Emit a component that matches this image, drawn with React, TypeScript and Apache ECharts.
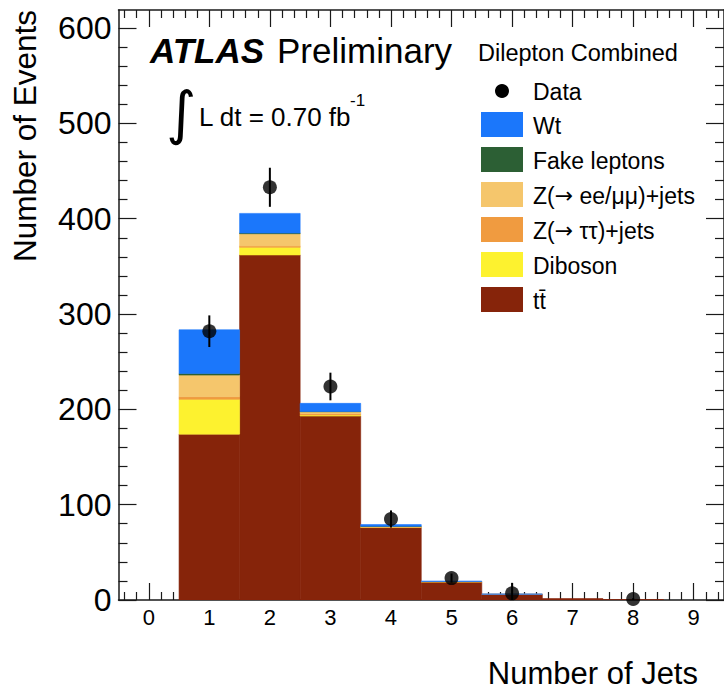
import React, { useEffect, useRef } from "react";
import * as echarts from "echarts";

// ---- data ----
const binCenters = [0, 1, 2, 3, 4, 5, 6, 7, 8, 9];
const ttbar = [0, 174, 362, 193, 76, 19, 6, 1.5, 0.5, 0];
const diboson = [0, 36.5, 8, 1, 0.3, 0.1, 0, 0, 0, 0];
const zTauTau = [0, 2.8, 1.3, 1.5, 0.3, 0.1, 0, 0, 0, 0];
const zEeMuMu = [0, 22.7, 13, 2, 0.5, 0.2, 0.1, 0, 0, 0];
const fakeLeptons = [0, 1.7, 0.7, 0.3, 0.2, 0, 0, 0, 0, 0];
const wt = [0, 45.8, 20.6, 8.5, 1.8, 0.5, 0.2, 0, 0, 0];
const dataCounts: (number | null)[] = [null, 282, 433, 224, 85, 23, 7, null, 1, null];
const dataErrors = [0, 16.6, 20.5, 14.5, 9, 4.8, 11, 0, 1, 0];

const xTickLabels = [0, 1, 2, 3, 4, 5, 6, 7, 8, 9];
const yTickLabels = [0, 100, 200, 300, 400, 500, 600];

const layerNames = ["t t\u0304", "Diboson", "Z(\u2192 \u03c4\u03c4)+jets", "Z(\u2192 ee/\u03bc\u03bc)+jets", "Fake leptons", "Wt"];
const layerValues = [ttbar, diboson, zTauTau, zEeMuMu, fakeLeptons, wt];
const layerColors = ["#86240a", "#fdf22f", "#f09b40", "#f5c66c", "#2c5f34", "#1b77fb"];

const FONT = '"Liberation Sans", Arial, Helvetica, sans-serif';
const INK = "#1a1a1a";

// minor tick positions (every 0.2 on x, every 20 on y)
const xMinorTicks: number[] = [];
for (let k = -2; k <= 47; k++) if (k % 5 !== 0) xMinorTicks.push(Math.round(k * 2) / 10);
const yMinorTicks: number[] = [];
for (let v = 20; v <= 600; v += 20) if (v % 100 !== 0) yMinorTicks.push(v);

export default function App() {
  const ref = useRef<HTMLDivElement>(null);
  useEffect(() => {
    if (!ref.current) return;
    const chart = echarts.init(ref.current, undefined, { renderer: "svg" });

    const frameLine = { show: true, onZero: false, lineStyle: { color: INK, width: 1.5 } };
    const noLine = { show: false, onZero: false };
    const tickLine = { color: INK, width: 1.2 };

    const xAxisBase = { type: "value", min: -0.5, max: 9.5, gridIndex: 0, splitLine: { show: false } };
    const yAxisBase = { type: "value", min: 0, max: 619, gridIndex: 0, splitLine: { show: false } };

    const xAxis = [
      {
        ...xAxisBase, position: "bottom", axisLine: frameLine,
        axisTick: { show: true, inside: true, length: 17, customValues: xTickLabels, lineStyle: tickLine },
        axisLabel: { show: true, customValues: xTickLabels, fontSize: 22, color: "#000", margin: 6, fontFamily: FONT },
      },
      {
        ...xAxisBase, position: "bottom", axisLine: noLine,
        axisTick: { show: true, inside: true, length: 8, customValues: xMinorTicks, lineStyle: tickLine },
        axisLabel: { show: false },
      },
      {
        ...xAxisBase, position: "top", axisLine: frameLine,
        axisTick: { show: true, inside: true, length: 17, customValues: xTickLabels, lineStyle: tickLine },
        axisLabel: { show: false },
      },
      {
        ...xAxisBase, position: "top", axisLine: noLine,
        axisTick: { show: true, inside: true, length: 8, customValues: xMinorTicks, lineStyle: tickLine },
        axisLabel: { show: false },
      },
    ];
    const yAxis = [
      {
        ...yAxisBase, position: "left", axisLine: frameLine,
        axisTick: { show: true, inside: true, length: 18, customValues: yTickLabels, lineStyle: tickLine },
        axisLabel: { show: true, customValues: yTickLabels, fontSize: 32, color: "#000", margin: 7, fontFamily: FONT },
      },
      {
        ...yAxisBase, position: "left", axisLine: noLine,
        axisTick: { show: true, inside: true, length: 9, customValues: yMinorTicks, lineStyle: tickLine },
        axisLabel: { show: false },
      },
      {
        ...yAxisBase, position: "right", axisLine: frameLine,
        axisTick: { show: true, inside: true, length: 18, customValues: yTickLabels, lineStyle: tickLine },
        axisLabel: { show: false },
      },
      {
        ...yAxisBase, position: "right", axisLine: noLine,
        axisTick: { show: true, inside: true, length: 9, customValues: yMinorTicks, lineStyle: tickLine },
        axisLabel: { show: false },
      },
    ];

    // stacked layers
    const cumulative = binCenters.map(() => 0);
    const stackSeries: any[] = layerValues.map((vals, li) => {
      const items: number[][] = [];
      binCenters.forEach((x, i) => {
        const lo = cumulative[i];
        const hi = lo + vals[i];
        cumulative[i] = hi;
        if (vals[i] > 0) items.push([x, lo, hi]);
      });
      const color = layerColors[li];
      return {
        type: "custom",
        name: layerNames[li],
        xAxisIndex: 0,
        yAxisIndex: 0,
        clip: true,
        z: 2,
        encode: { x: 0, y: [1, 2] },
        data: items,
        renderItem: (params: any, api: any) => {
          const x = api.value(0), lo = api.value(1), hi = api.value(2);
          const a = api.coord([x - 0.5, lo]);
          const b = api.coord([x + 0.5, hi]);
          return {
            type: "rect",
            shape: { x: a[0], y: b[1], width: b[0] - a[0], height: a[1] - b[1] },
            style: { fill: color, stroke: color, lineWidth: 0.6 },
          };
        },
      };
    });

    const pointData: number[][] = [];
    const errData: number[][] = [];
    binCenters.forEach((x, i) => {
      const v = dataCounts[i];
      if (v !== null) {
        pointData.push([x, v]);
        errData.push([x, v - dataErrors[i], v + dataErrors[i]]);
      }
    });

    const errorSeries = {
      type: "custom",
      name: "Data errors",
      xAxisIndex: 0,
      yAxisIndex: 0,
      clip: true,
      z: 5,
      encode: { x: 0, y: [1, 2] },
      data: errData,
      renderItem: (params: any, api: any) => {
        const x = api.value(0);
        const a = api.coord([x, api.value(1)]);
        const b = api.coord([x, api.value(2)]);
        return {
          type: "line",
          shape: { x1: a[0], y1: a[1], x2: b[0], y2: b[1] },
          style: { stroke: "#000", lineWidth: 2 },
        };
      },
    };

    const scatterSeries = {
      type: "scatter",
      name: "Data",
      xAxisIndex: 0,
      yAxisIndex: 0,
      symbol: "circle",
      symbolSize: 14,
      z: 6,
      itemStyle: { color: "#000" },
      data: pointData,
    };

    const legendRich = {
      arr: { fontSize: 22, fontFamily: '"DejaVu Sans", sans-serif', fill: "#000" },
    };
    const legendLabel = (name: string) =>
      name.replace(" t", "t").replace("\u2192", "{arr|\u2192}");

    // legend (drawn as graphic)
    const legendOrder = [5, 4, 3, 2, 1, 0];
    const legendGraphics: any[] = [
      {
        type: "text", x: 478, y: 53,
        style: { text: "Dilepton Combined", fontSize: 23.5, fontFamily: FONT, fill: "#000", align: "left", verticalAlign: "middle" },
      },
      { type: "circle", shape: { cx: 502, cy: 91, r: 7 }, style: { fill: "#000" } },
      {
        type: "text", x: 533, y: 92,
        style: { text: "Data", fontSize: 23, fontFamily: FONT, fill: "#000", align: "left", verticalAlign: "middle" },
      },
    ];
    legendOrder.forEach((li, k) => {
      const cy = 124.5 + k * 35;
      legendGraphics.push({
        type: "rect", shape: { x: 481, y: cy - 12.5, width: 42, height: 25 },
        style: { fill: layerColors[li] },
      });
      legendGraphics.push({
        type: "text", x: 533, y: cy + 1,
        style: {
          text: legendLabel(layerNames[li]), rich: legendRich,
          fontSize: 23, fontFamily: FONT, fill: "#000", align: "left", verticalAlign: "middle",
        },
      });
    });

    const graphics: any[] = [
      {
        type: "text", x: 150, y: 50,
        style: { text: "ATLAS", fontSize: 35, fontWeight: "bold", fontStyle: "italic", fontFamily: FONT, fill: "#000", align: "left", verticalAlign: "middle" },
      },
      {
        type: "text", x: 277, y: 50,
        style: { text: "Preliminary", fontSize: 35, fontFamily: FONT, fill: "#000", align: "left", verticalAlign: "middle" },
      },
      {
        type: "text", x: 181, y: 113,
        style: { text: "\u222b", fontSize: 58, fontFamily: '"DejaVu Sans", sans-serif', fill: "#000", align: "center", verticalAlign: "middle" },
      },
      {
        type: "text", x: 199, y: 117,
        style: { text: "L dt = 0.70 fb", fontSize: 26, fontFamily: FONT, fill: "#000", align: "left", verticalAlign: "middle" },
      },
      {
        type: "text", x: 350, y: 100,
        style: { text: "-1", fontSize: 17, fontFamily: FONT, fill: "#000", align: "left", verticalAlign: "middle" },
      },
      {
        type: "text", x: 25, y: 10, rotation: Math.PI / 2,
        style: { text: "Number of Events", fontSize: 31.5, fontFamily: FONT, fill: "#000", align: "right", verticalAlign: "middle" },
      },
      {
        type: "text", x: 698, y: 673,
        style: { text: "Number of Jets", fontSize: 31, fontFamily: FONT, fill: "#000", align: "right", verticalAlign: "middle" },
      },
      ...legendGraphics,
    ];

    chart.setOption({
      animation: false,
      backgroundColor: "#fff",
      textStyle: { fontFamily: FONT },
      grid: { left: 118.5, top: 10, width: 610, height: 590, containLabel: false },
      xAxis,
      yAxis,
      series: [...stackSeries, errorSeries, scatterSeries],
      graphic: graphics,
    } as any);

    return () => chart.dispose();
  }, []);

  return (
    <div
      ref={ref}
      style={{ position: "fixed", left: 0, top: 0, width: 724, height: 692, background: "#fff" }}
    />
  );
}
